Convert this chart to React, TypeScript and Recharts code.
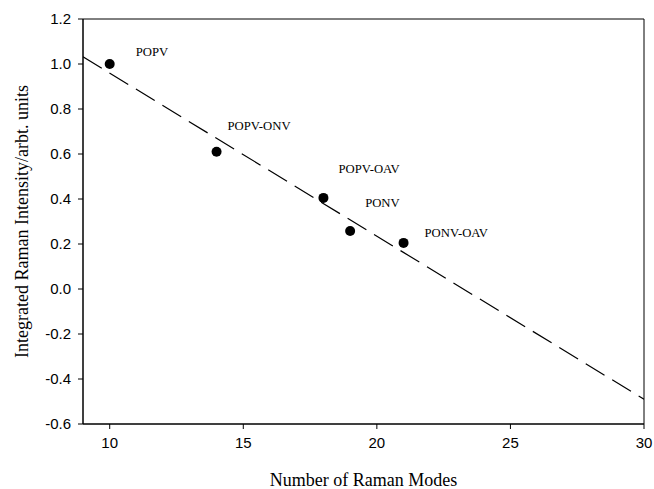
import { ReferenceArea, Label, Scatter, ScatterChart, XAxis, YAxis } from "recharts";

// measured points
const modes = [10, 14, 18, 19, 21];
const intensity = [1.0, 0.61, 0.405, 0.258, 0.205];
const names = ["POPV", "POPV-ONV", "POPV-OAV", "PONV", "PONV-OAV"];

// fitted line end points
const fitModes = [9, 30];
const fitIntensity = [1.032, -0.49];

const xTicks = [10, 15, 20, 25, 30];
const yTicks = [-0.6, -0.4, -0.2, 0, 0.2, 0.4, 0.6, 0.8, 1.0, 1.2];

// label offsets from each dot, px
const labelShift: Record<string, [number, number]> = {
  POPV: [26, -12],
  "POPV-ONV": [11, -26],
  "POPV-OAV": [15, -29],
  PONV: [15, -28],
  "PONV-OAV": [21, -10],
};

const serif = "'Liberation Serif', 'Times New Roman', serif";
const sans = "'Liberation Sans', Arial, sans-serif";

const points = modes.map((x, i) => ({ x, y: intensity[i], name: names[i] }));
const fit = fitModes.map((x, i) => ({ x, y: fitIntensity[i] }));

function Dot(props: any) {
  const { cx, cy, payload } = props;
  const [dx, dy] = labelShift[payload.name] ?? [10, -10];
  return (
    <g>
      <circle cx={cx} cy={cy} r={5} fill="#000" />
      <text
        x={cx + dx}
        y={cy + dy}
        dominantBaseline="central"
        fontFamily={serif}
        fontSize={12.7}
        fill="#000"
      >
        {payload.name}
      </text>
    </g>
  );
}

function XTitle(props: any) {
  const vb = props.viewBox;
  return (
    <text x={vb.x + vb.width / 2} y={486} textAnchor="middle" fontFamily={serif} fontSize={18} fill="#000">
      Number of Raman Modes
    </text>
  );
}

function YTitle(props: any) {
  const vb = props.viewBox;
  const cy = vb.y + vb.height / 2;
  return (
    <text
      x={22}
      y={cy}
      transform={`rotate(-90 22 ${cy})`}
      textAnchor="middle"
      dominantBaseline="central"
      fontFamily={serif}
      fontSize={18}
      fill="#000"
    >
      Integrated Raman Intensity/arbt. units
    </text>
  );
}

export default function App() {
  return (
    <div style={{ position: "absolute", left: 0, top: 0, background: "#fff" }}>
      <ScatterChart width={654} height={489} margin={{ top: 19, right: 10, left: 0, bottom: 0 }}>
        <XAxis
          type="number"
          dataKey="x"
          domain={[9, 30]}
          ticks={xTicks}
          allowDataOverflow
          height={65}
          tickSize={5}
          tickMargin={8}
          axisLine={{ stroke: "#000" }}
          tickLine={{ stroke: "#000" }}
          tick={{ fill: "#000", fontSize: 15, fontFamily: sans }}
        >
          <Label content={<XTitle />} />
        </XAxis>
        <YAxis
          type="number"
          dataKey="y"
          domain={[-0.6, 1.2]}
          ticks={yTicks}
          allowDataOverflow
          width={83}
          tickSize={5}
          tickMargin={7}
          tickFormatter={(v: number) => v.toFixed(1)}
          axisLine={{ stroke: "#000" }}
          tickLine={{ stroke: "#000" }}
          tick={{ fill: "#000", fontSize: 15, fontFamily: sans }}
        >
          <Label content={<YTitle />} />
        </YAxis>
        <ReferenceArea x1={9} x2={30} y1={-0.6} y2={1.2} fill="none" stroke="#000" strokeWidth={1} />
        <Scatter
          data={fit}
          line={{ stroke: "#000", strokeWidth: 1.2, strokeDasharray: "22 9" }}
          shape={() => <g />}
          isAnimationActive={false}
        />
        <Scatter data={points} shape={<Dot />} isAnimationActive={false} />
      </ScatterChart>
    </div>
  );
}
